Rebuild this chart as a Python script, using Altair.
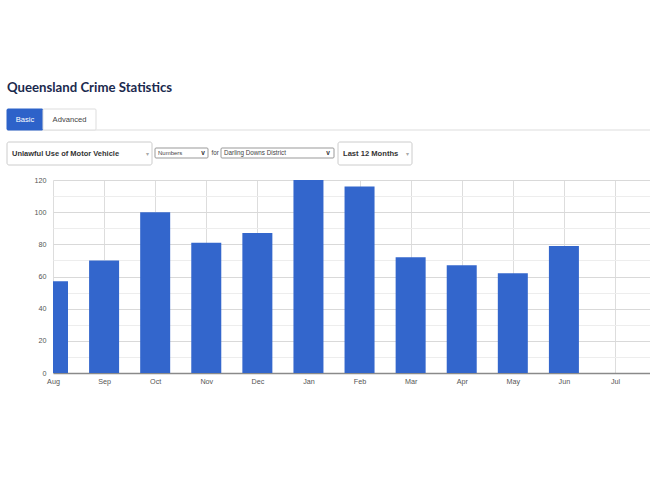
import altair as alt
import pandas as pd

# ---- data ----
months = ["Aug", "Sep", "Oct", "Nov", "Dec", "Jan", "Feb", "Mar", "Apr", "May", "Jun", "Jul"]
offences = [57, 70, 100, 81, 87, 120, 116, 72, 67, 62, 79, None]  # Jul: no bar
y_ticks = [0, 10, 20, 30, 40, 50, 60, 70, 80, 90, 100, 110, 120]

df = pd.DataFrame({"idx": list(range(len(months))), "month": months, "count": offences})
df_bars = df.dropna()

PLOT_W, PLOT_H = 597, 193
FONT = "Liberation Sans, Arial, sans-serif"
BLUE = "#3366cc"

label_expr = "[" + ",".join(f"'{m}'" for m in months) + "][datum.value]"

bars = alt.Chart(df_bars).mark_bar(color=BLUE, size=30, clip=True, orient="vertical").encode(
    x=alt.X("idx:Q",
            scale=alt.Scale(domain=[0, 11.685], nice=False, zero=False, padding=0),
            axis=alt.Axis(values=list(range(12)), labelExpr=label_expr, title=None,
                          ticks=False, labelFontSize=7.2, labelColor="#555", labelFont=FONT,
                          labelPadding=4, labelFlush=False, labelOverlap=False,
                          labelAlign="center",
                          domainColor="#8a8a8a", domainWidth=1.5,
                          grid=True, gridColor="#dddddd")),
    y=alt.Y("count:Q",
            scale=alt.Scale(domain=[0, 120], nice=False, padding=0),
            axis=alt.Axis(values=y_ticks, labelExpr="datum.value % 20 === 0 ? datum.label : ''",
                          title=None, ticks=False, domain=False, labelFontSize=7.2,
                          labelColor="#555", labelFont=FONT, labelPadding=7,
                          gridColor={"condition": {"test": "datum.value % 20 === 0", "value": "#d9d9d9"},
                                     "value": "#ededed"})),
)

one = pd.DataFrame({"k": [0]})
base = alt.Chart(one)

def box(x1, x2, y1, y2, fill="white", stroke="#cccccc", r=2):
    return base.mark_rect(fill=fill, stroke=stroke, strokeWidth=1, cornerRadius=r).encode(
        x=alt.value(x1), x2=alt.value(x2), y=alt.value(y1), y2=alt.value(y2))

def txt(s, x, y, size=9, color="#333", weight="normal", align="left", font=FONT):
    return base.mark_text(text=s, fontSize=size, color=color, fontWeight=weight, align=align,
                          baseline="middle", font=font).encode(x=alt.value(x), y=alt.value(y))

decor = [
    txt("Queensland Crime Statistics", -46, -92, size=13.2, color="#1b2a4e", weight="bold",
        font="Lato, sans-serif"),
    base.mark_rule(color="#dddddd", strokeWidth=1).encode(
        x=alt.value(-46), x2=alt.value(597), y=alt.value(-50)),
    box(-46, -10, -71, -50, fill="#2d62c9", stroke="#2d62c9", r=1),
    txt("Basic", -28, -60.5, size=7.6, color="white", align="center"),
    box(-10, 43, -71, -50, fill="white", stroke="#dddddd", r=1),
    txt("Advanced", 16.5, -60.5, size=7.6, color="#444", align="center"),
    box(-46, 99, -38, -15),
    txt("Unlawful Use of Motor Vehicle", -41, -26.5, size=7.5, color="#333", weight="bold"),
    txt("▾", 94, -26.5, size=6, color="#aaa", align="center"),
    box(102, 155, -32, -22, stroke="#999999", r=1),
    txt("Numbers", 105, -27, size=6, color="#444"),
    txt("v", 150, -27, size=6.5, color="#333", weight="bold", align="center"),
    txt("for", 158.5, -27, size=6.3, color="#444"),
    box(168, 281, -32, -22, stroke="#999999", r=1),
    txt("Darling Downs District", 171, -27, size=6.3, color="#444"),
    txt("v", 275, -27, size=6.5, color="#333", weight="bold", align="center"),
    box(285, 359, -38, -15),
    txt("Last 12 Months", 290, -26.5, size=7.6, color="#333", weight="bold"),
    txt("▾", 354, -26.5, size=6, color="#aaa", align="center"),
]

chart = alt.layer(bars, *decor).properties(
    width=PLOT_W, height=PLOT_H,
    autosize=alt.AutoSizeParams(type="none"),
    padding={"left": 53, "top": 180, "right": 0, "bottom": 114},
    background="white",
).configure_view(stroke=None)

chart.save("out.html", embed_options={"renderer": "svg", "actions": False})
